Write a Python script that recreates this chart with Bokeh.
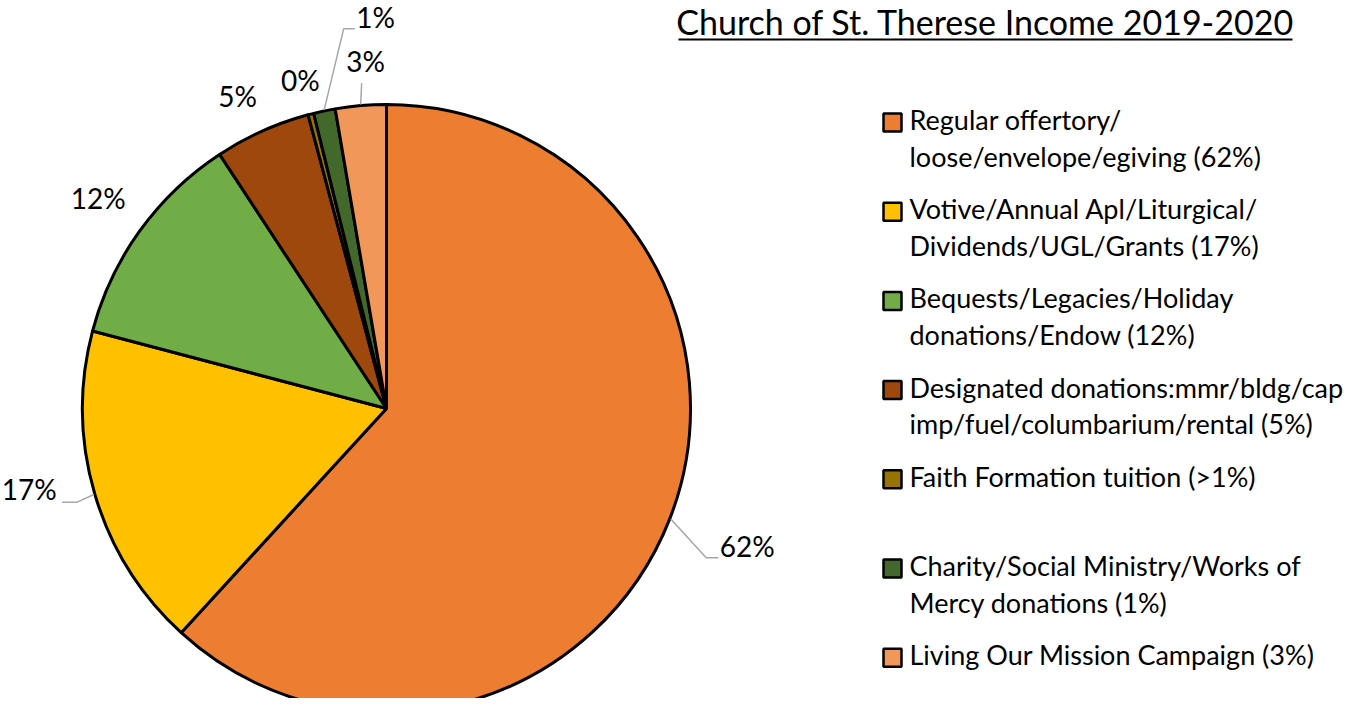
import math
from bokeh.plotting import figure
from bokeh.models import Range1d, ColumnDataSource
from bokeh.embed import file_html
from bokeh.resources import INLINE
from bokeh.core.properties import value

# ---------------- data ----------------
title_text = "Church of St. Therese Income 2019-2020"
categories = [
    "Regular offertory", "Votive/Annual Apl", "Bequests/Legacies",
    "Designated donations", "Faith Formation tuition", "Charity/Social Ministry",
    "Living Our Mission Campaign",
]
shares = [61.8, 17.3, 11.65, 5.1, 0.3, 1.15, 2.7]
colors = ["#ED7D31", "#FFC000", "#70AD47", "#9E480E", "#997300", "#43682B", "#F1975A"]
legend_labels = [
    "Regular offertory/\nloose/envelope/egiving (62%)",
    "Votive/Annual Apl/Liturgical/\nDividends/UGL/Grants (17%)",
    "Bequests/Legacies/Holiday\ndonations/Endow (12%)",
    "Designated donations:mmr/bldg/cap\nimp/fuel/columbarium/rental (5%)",
    "Faith Formation tuition (>1%)",
    "Charity/Social Ministry/Works of\nMercy donations (1%)",
    "Living Our Mission Campaign (3%)",
]

# ---------------- style ----------------
FONT = "Lato"
W, H = 1349, 698
def Y(sy):
    return H - sy

CX, CY, R = 386, Y(408), 304
label_radius = [387, 367, 355, 343, 337, 389, 345]
label_angle_shift = [0, 3.2, 0, -1.6, -0.4, 10.2, 1.4]
leader_elbows = [[(-41, 9), (-29, 9)], [(48, 10), (33, 10)], None, None, None,
                 [(-32, 9), (-21, 9)], [(-4, 19)]]
MID_SHIFT = 3  # bokeh "middle" baseline puts cap centre ~3px low

p = figure(width=W, height=H, x_range=Range1d(0, W), y_range=Range1d(0, H),
           output_backend="svg", toolbar_location=None, min_border=0,
           x_axis_location=None, y_axis_location=None)
p.grid.visible = False
p.outline_line_color = None
p.background_fill_color = "white"

total = sum(shares)
cum = [0.0]
for s in shares:
    cum.append(cum[-1] + s / total)
starts = [math.pi / 2 - 2 * math.pi * c for c in cum[:-1]]
ends = [math.pi / 2 - 2 * math.pi * c for c in cum[1:]]

src = ColumnDataSource(dict(start=starts, end=ends, color=colors, cat=categories))
p.wedge(x=CX, y=CY, radius=R, start_angle="start", end_angle="end", direction="clock",
        fill_color="color", line_color="black", line_width=3, source=src)

# data labels + leader lines
lx, ly, lt = [], [], []
xs, ys = [], []
for i, s in enumerate(shares):
    mid = 360 * (cum[i] + cum[i + 1]) / 2
    ang = math.radians(mid + label_angle_shift[i])
    sx = CX + label_radius[i] * math.sin(ang)
    sys_ = 408 - label_radius[i] * math.cos(ang)
    lx.append(sx)
    ly.append(Y(sys_ - MID_SHIFT))
    lt.append(f"{round(s)}%")
    if leader_elbows[i]:
        m = math.radians(mid)
        ex = CX + (R + 1) * math.sin(m)
        ey = 408 - (R + 1) * math.cos(m)
        px = [ex] + [sx + dx for dx, dy in leader_elbows[i]]
        py = [Y(ey)] + [Y(sys_ + dy) for dx, dy in leader_elbows[i]]
        xs.append(px)
        ys.append(py)

p.multi_line(xs=xs, ys=ys, line_color="#A6A6A6", line_width=1.5)
p.text(x=lx, y=ly, text=lt, text_font=value(FONT), text_font_size="28px",
       text_align="center", text_baseline="middle", text_color="#000000")

# title with underline
p.text(x=[985], y=[Y(24 - MID_SHIFT)], text=[title_text], text_font=value(FONT),
       text_font_size="34px", text_align="center", text_baseline="middle",
       text_color="#000000")
p.line(x=[678, 1292], y=[Y(39), Y(39)], line_color="black", line_width=2)

# legend
line1, line2, c1, c2 = [], [], [], []
for i, lab in enumerate(legend_labels):
    parts = lab.split("\n")
    c = 122 + 89.2 * i
    line1.append(parts[0])
    line2.append(parts[1] if len(parts) > 1 else "")
    c1.append(c)
    c2.append(c + 36.5)

p.scatter(x=[892] * len(colors), y=[Y(c) for c in c1], marker="square", size=18,
          fill_color=colors, line_color="black", line_width=2.5)
p.text(x=[909] * len(line1), y=[Y(c - MID_SHIFT) for c in c1], text=line1,
       text_font=value(FONT), text_font_size="27px", text_align="left",
       text_baseline="middle", text_color="#000000")
p.text(x=[909] * len(line2), y=[Y(c - MID_SHIFT) for c in c2], text=line2,
       text_font=value(FONT), text_font_size="27px", text_align="left",
       text_baseline="middle", text_color="#000000")

open("out.html", "w").write(file_html(p, INLINE))
